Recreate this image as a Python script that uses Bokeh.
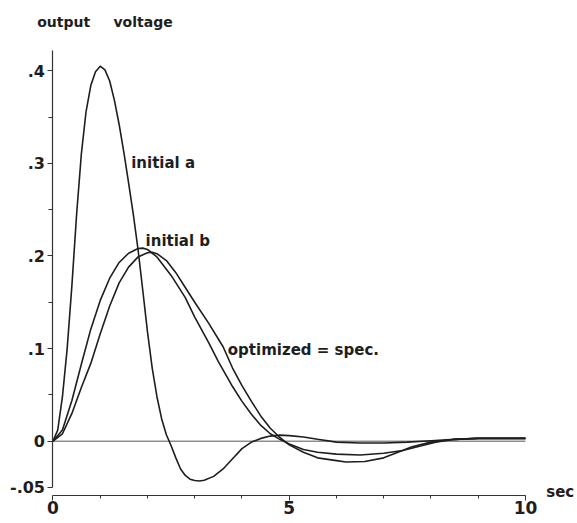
from bokeh.plotting import figure
from bokeh.models import Range1d, FixedTicker, Label
from bokeh.embed import file_html
from bokeh.resources import INLINE

# ---- data ----
t_a = [0, 0.1, 0.2, 0.3, 0.4, 0.5, 0.6, 0.7, 0.8, 0.9, 1.0, 1.1, 1.2, 1.3, 1.4, 1.5,
       1.6, 1.7, 1.8, 1.9, 2.0, 2.1, 2.2, 2.3, 2.4, 2.5, 2.6, 2.7, 2.8, 2.9, 3.0, 3.1,
       3.2, 3.4, 3.6, 3.8, 4.0, 4.2, 4.4, 4.6, 4.8, 5.0, 5.3, 5.6, 6.0, 6.5, 7.0, 7.5,
       8.0, 8.5, 9.0, 9.5, 10.0]
v_a = [0, 0.012, 0.048, 0.100, 0.168, 0.245, 0.310, 0.356, 0.384, 0.399, 0.405, 0.401,
       0.389, 0.368, 0.342, 0.312, 0.279, 0.245, 0.207, 0.163, 0.118, 0.079, 0.048,
       0.024, 0.007, -0.005, -0.018, -0.030, -0.037, -0.041, -0.0425, -0.043, -0.0422,
       -0.038, -0.030, -0.019, -0.008, -0.001, 0.003, 0.0055, 0.0065, 0.006, 0.0045,
       0.002, -0.001, -0.002, -0.002, -0.001, 0.0005, 0.002, 0.003, 0.003, 0.003]

t_b = [0, 0.2, 0.4, 0.6, 0.8, 1.0, 1.2, 1.4, 1.6, 1.8, 1.9, 2.0, 2.2, 2.5, 2.8, 3.0,
       3.3, 3.5, 3.8, 4.0, 4.2, 4.4, 4.6, 4.8, 5.0, 5.3, 5.6, 6.0, 6.5, 7.0, 7.4, 7.8,
       8.1, 8.5, 9.0, 9.5, 10.0]
v_b = [0, 0.012, 0.044, 0.083, 0.121, 0.152, 0.176, 0.193, 0.203, 0.208, 0.2085, 0.207,
       0.199, 0.179, 0.155, 0.134, 0.106, 0.086, 0.059, 0.043, 0.029, 0.017, 0.008,
       0.002, -0.003, -0.009, -0.012, -0.014, -0.015, -0.013, -0.010, -0.005, -0.001,
       0.002, 0.003, 0.003, 0.003]

t_opt = [0, 0.2, 0.4, 0.6, 0.8, 1.0, 1.2, 1.4, 1.6, 1.8, 2.0, 2.1, 2.2, 2.4, 2.6, 2.8,
         3.0, 3.3, 3.6, 3.8, 4.0, 4.2, 4.4, 4.6, 4.8, 5.0, 5.3, 5.6, 6.0, 6.2, 6.6, 7.0,
         7.3, 7.6, 8.0, 8.5, 9.0, 9.5, 10.0]
v_opt = [0, 0.008, 0.030, 0.058, 0.084, 0.116, 0.146, 0.171, 0.188, 0.199, 0.2035,
         0.204, 0.2025, 0.195, 0.182, 0.166, 0.150, 0.127, 0.102, 0.079, 0.060, 0.043,
         0.027, 0.014, 0.004, -0.004, -0.012, -0.018, -0.021, -0.0225, -0.022, -0.018,
         -0.012, -0.006, -0.001, 0.002, 0.003, 0.003, 0.003]

t_span = [0, 10]          # time axis extent (sec)
v_span = [-0.05, 0.422]   # voltage axis extent

x_ticks = [0, 5, 10]
x_tick_labels = ["0", "5", "10"]
x_minor_ticks = [1, 2, 3, 4, 6, 7, 8, 9]
y_ticks = [-0.05, 0, 0.1, 0.2, 0.3, 0.4]
y_tick_labels = ["-.05", "0", ".1", ".2", ".3", ".4"]
y_minor_ticks = [0.05, 0.15, 0.25, 0.35]

curve_names = ["initial a", "initial b", "optimized = spec."]
curve_label_pos = [(1.655, 0.300), (1.96, 0.216), (3.70, 0.098)]

FONT = "DejaVu Sans"
INK = "#1e1e1e"
AX = "#333333"

p = figure(width=577, height=523, output_backend="svg", toolbar_location=None,
           x_range=Range1d(-1.111, 11.101), y_range=Range1d(-0.0889, 0.4759),
           min_border=0)
p.outline_line_color = None
p.xgrid.visible = False
p.ygrid.visible = False

# zero reference line
p.line(t_span, [0, 0], line_color="#555555", line_width=1)

for tt, vv in [(t_a, v_a), (t_b, v_b), (t_opt, v_opt)]:
    p.line(tt, vv, line_color=INK, line_width=1.6)

# x axis
xa = p.xaxis[0]
xa.fixed_location = -0.0586
xa.ticker = FixedTicker(ticks=x_ticks, minor_ticks=x_minor_ticks)
xa.major_label_overrides = {k: v for k, v in zip(x_ticks, x_tick_labels)}
xa.bounds = tuple(t_span)
xa.axis_line_color = AX
xa.axis_line_width = 1.2
xa.major_tick_in = 0
xa.major_tick_out = 5
xa.minor_tick_in = 0
xa.minor_tick_out = 3
xa.major_tick_line_color = AX
xa.minor_tick_line_color = AX
xa.major_label_standoff = 1
xa.major_label_text_font = FONT
xa.major_label_text_font_style = "bold"
xa.major_label_text_font_size = "17px"
xa.major_label_text_color = INK

# y axis
ya = p.yaxis[0]
ya.fixed_location = 0
ya.ticker = FixedTicker(ticks=y_ticks, minor_ticks=y_minor_ticks)
ya.major_label_overrides = {k: v for k, v in zip(y_ticks, y_tick_labels)}
ya.bounds = tuple(v_span)
ya.axis_line_color = AX
ya.axis_line_width = 1.2
ya.major_tick_in = 0
ya.major_tick_out = 5
ya.minor_tick_in = 0
ya.minor_tick_out = 4
ya.major_tick_line_color = AX
ya.minor_tick_line_color = AX
ya.major_label_standoff = 3
ya.major_label_text_font = FONT
ya.major_label_text_font_style = "bold"
ya.major_label_text_font_size = "16px"
ya.major_label_text_color = INK

def add_text(x, y, s, size="15px"):
    p.add_layout(Label(x=x, y=y, text=s, text_font=FONT, text_font_style="bold",
                       text_font_size=size, text_color=INK,
                       text_align="left", text_baseline="middle"))

for name, (lx, ly) in zip(curve_names, curve_label_pos):
    add_text(lx, ly, name)

add_text(-0.334, 0.4527, "output", "14px")
add_text(1.28, 0.4527, "voltage", "14px")
add_text(10.44, -0.0554, "sec")

open("out.html", "w").write(file_html(p, INLINE))
